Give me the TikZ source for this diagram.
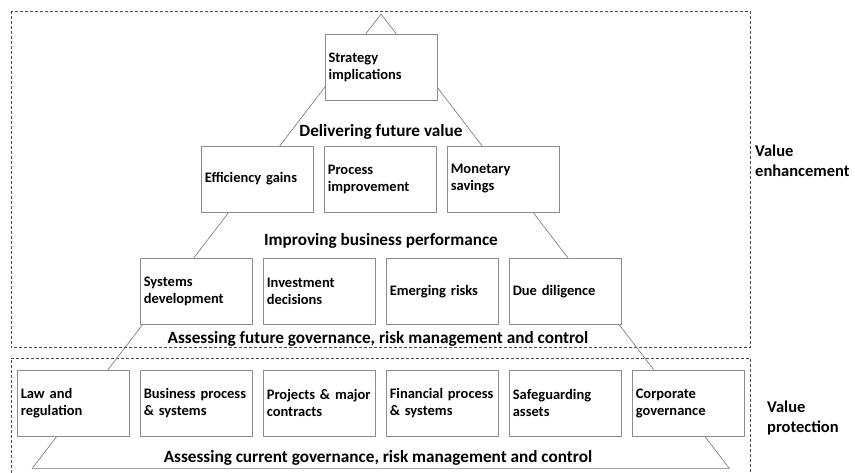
\documentclass[tikz,border=0pt]{standalone}
\usepackage{fontspec}
\setmainfont{Carlito}
\begin{document}
\begin{tikzpicture}[x=1pt,y=-1pt,
  dbox/.style={draw=black!70, line width=0.8pt, dash pattern=on 3pt off 2pt},
  tri/.style={draw=black!55, line width=0.6pt},
  item/.style={draw=black!45, line width=0.8pt, fill=white, rectangle,
    minimum width=112pt, minimum height=66pt, text width=105pt, inner xsep=3.5pt,
    align=left, font=\bfseries\fontsize{14.5}{17}\selectfont},
  head/.style={inner sep=0pt, font=\bfseries\fontsize{17.2}{20}\selectfont},
  side/.style={inner sep=0pt, anchor=west, align=left, font=\bfseries\fontsize{16.5}{20}\selectfont}]
\useasboundingbox (0,0) rectangle (855,473);
% dashed frames
\draw[dbox] (11,11) rectangle (750.5,347.7);
\draw[dbox] (11,473) -- (11,358.3) -- (750.5,358.3) -- (750.5,473);
% pyramid
\coordinate (apex) at (381,14);
\coordinate (bl) at (32.3,468.3);
\coordinate (br) at (729.3,468.3);
\draw[tri] (bl) -- (apex) -- (br) -- cycle;
% top
\node[item] (strat) at (381,67.2) {Strategy\\implications};
% row 2
\node[item] (eff) at (257.3,179) {Efficiency gains};
\node[item] (proc) at (380.3,179) {Process\\improvement};
\node[item] (mon) at (503.3,179) {Monetary\\savings};
% row 3
\node[item] (sys) at (196.3,291.2) {Systems\\development};
\node[item] (inv) at (319.3,291.2) {Investment\\decisions};
\node[item] (emr) at (442.3,291.2) {Emerging risks};
\node[item] (due) at (565.3,291.2) {Due diligence};
% row 4
\node[item] (law) at (73.3,403) {Law and\\regulation};
\node[item] (bus) at (196.3,403) {Business process\\\& systems};
\node[item] (prj) at (319.3,403) {Projects \& major\\contracts};
\node[item] (fin) at (442.3,403) {Financial process\\\& systems};
\node[item] (saf) at (565.3,403) {Safeguarding\\assets};
\node[item] (cor) at (688.3,403) {Corporate\\governance};
% headings
\node[head] (h1) at (381,131.7) {Delivering future value};
\node[head] (h2) at (381,241) {Improving business performance};
\node[head] (h3) at (378,339.3) {Assessing future governance, risk management and control};
\node[head] (h4) at (378,458.3) {Assessing current governance, risk management and control};
% side labels
\node[side] (ve) at (755,160.5) {Value\\enhancement};
\node[side] (vp) at (767,418) {Value\\protection};
\end{tikzpicture}
\end{document}
